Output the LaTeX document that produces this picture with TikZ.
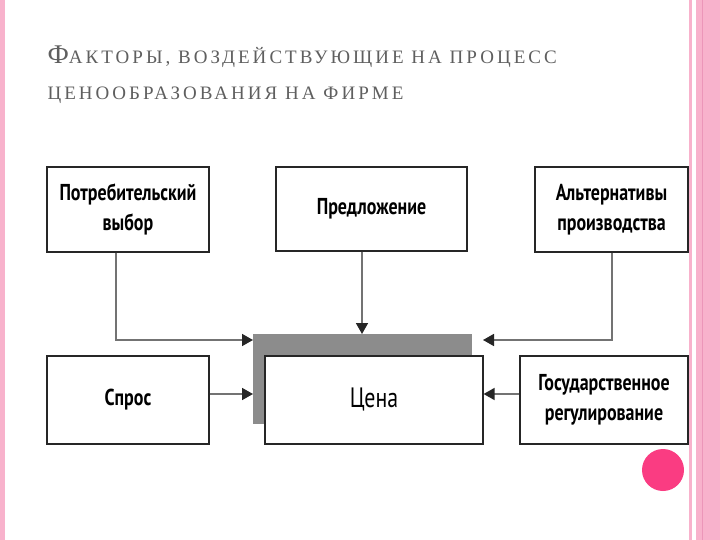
\documentclass[tikz,border=0pt]{standalone}
\usepackage{fontspec}
\setmainfont{Liberation Serif}
\newfontfamily\boxfont[FakeStretch=0.78]{PT Sans}
\newfontfamily\titlefont[LetterSpace=16]{Liberation Serif}
\usetikzlibrary{arrows.meta}
\definecolor{pinkA}{RGB}{248,178,204}
\definecolor{pinkB}{RGB}{236,150,185}
\definecolor{dotc}{RGB}{250,60,130}
\definecolor{titlec}{RGB}{95,95,95}
\tikzset{
  fbox/.style={draw=black!85,line width=1.2pt,fill=white,align=center,font=\boxfont\bfseries\fontsize{23}{30}\selectfont,inner sep=0pt},
  conn/.style={draw=black!55,line width=1.6pt,-{Triangle[length=11pt,width=12pt,color=black!85]}}
}
\begin{document}
\begin{tikzpicture}[x=1pt,y=-1pt]
\useasboundingbox (0,0) rectangle (720,540);
\fill[white] (0,0) rectangle (720,540);
\fill[pinkA] (0,0) rectangle (5,540);
\fill[pinkA] (689,0) rectangle (691.5,540);
\fill[pinkA] (696,0) rectangle (720,540);
\draw[pinkB,line width=0.8pt] (702,0) -- (702,540);
\fill[dotc] (663,470) circle (21);
\node[anchor=base west,text=titlec,font=\titlefont\fontsize{19}{24}\selectfont] (t1) at (44,64) {{\fontsize{27}{30}\selectfont Ф}АКТОРЫ, ВОЗДЕЙСТВУЮЩИЕ НА ПРОЦЕСС};
\node[anchor=base west,text=titlec,font=\titlefont\fontsize{19}{24}\selectfont] (t2) at (44,100) {ЦЕНООБРАЗОВАНИЯ НА ФИРМЕ};
\fill[black!45] (253,334) rectangle (472,424);
\node[fbox,minimum width=162pt,minimum height=85pt] (pv) at (128,209.5) {Потребительский\\выбор};
\node[fbox,minimum width=191pt,minimum height=84pt] (pr) at (371.5,209) {Предложение};
\node[fbox,minimum width=153pt,minimum height=85pt] (al) at (611.5,209.5) {Альтернативы\\производства};
\node[fbox,minimum width=162pt,minimum height=88pt] (sp) at (128,400) {Спрос};
\node[fbox,minimum width=218pt,minimum height=88pt,font=\boxfont\fontsize{28}{32}\selectfont] (ce) at (374,400) {Цена};
\node[fbox,minimum width=168pt,minimum height=88pt] (gr) at (604,400) {Государственное\\регулирование};
\coordinate (gl) at (253,340);
\coordinate (gt) at (362,334);
\coordinate (gr2) at (483,340);
\draw[conn] (pv.south -| 116,0) |- (gl);
\draw[conn] (pr.south -| gt) -- (gt);
\draw[conn] (al.south -| 612,0) |- (gr2);
\draw[conn] (sp.east |- 0,394) -- (253,394);
\draw[conn] (gr.west |- 0,394) -- (ce.east |- 0,394);
\end{tikzpicture}
\end{document}
